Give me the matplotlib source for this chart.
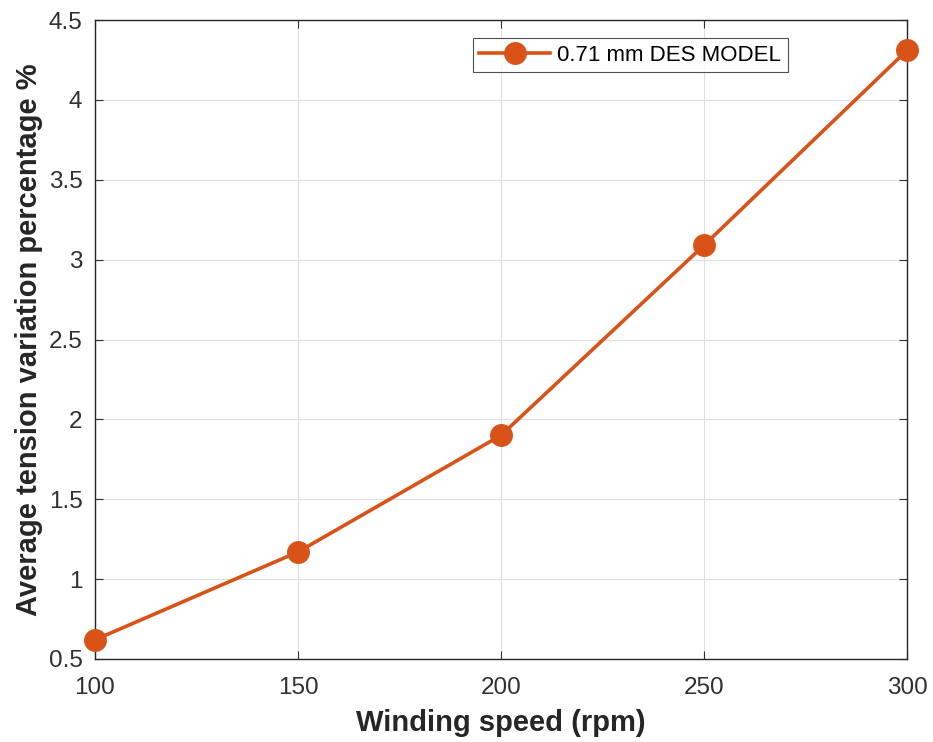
import matplotlib
matplotlib.use("Agg")
import matplotlib.pyplot as plt

speed = [100, 150, 200, 250, 300]
tension = [0.62, 1.17, 1.90, 3.09, 4.31]
series_label = "0.71 mm DES MODEL"
xticks = [100, 150, 200, 250, 300]
yticks = [0.5, 1, 1.5, 2, 2.5, 3, 3.5, 4, 4.5]
ytick_labels = ["0.5", "1", "1.5", "2", "2.5", "3", "3.5", "4", "4.5"]

plt.rcParams['font.family'] = ['Liberation Sans', 'DejaVu Sans']

fig = plt.figure(figsize=(9.33, 7.42), dpi=100)
ax = fig.add_axes([0.1018, 0.1119, 0.8703, 0.8611])

color = '#D95319'
ax.plot(speed, tension, '-o', color=color, linewidth=2.6, markersize=15.5,
        label=series_label, clip_on=False, zorder=3)

ax.set_xlim(100, 300)
ax.set_ylim(0.5, 4.5)
ax.set_xticks(xticks)
ax.set_yticks(yticks)
ax.set_yticklabels(ytick_labels)
ax.grid(True, color='#dedede', linewidth=0.8)
ax.set_axisbelow(True)
ax.tick_params(direction='in', length=6, width=0.8, top=True, right=True,
               labelsize=17.5, colors='#303030')
ax.tick_params(axis='x', pad=13)
ax.tick_params(axis='y', pad=9)
for s in ax.spines.values():
    s.set_color('#262626')
    s.set_linewidth(1.0)

ax.set_xlabel('Winding speed (rpm)', fontsize=21, fontweight='bold', color='#262626', labelpad=7)
ax.set_ylabel('Average tension variation percentage %', fontsize=21, fontweight='bold', color='#262626', labelpad=4)

leg = ax.legend(loc='upper right', bbox_to_anchor=(0.853, 0.972), fontsize=16,
                frameon=True, fancybox=False, edgecolor='#262626',
                handlelength=3.2, borderpad=0.3, handletextpad=0.3,
                borderaxespad=0)
leg.get_frame().set_linewidth(0.8)

fig.savefig('out.png', dpi=100)
